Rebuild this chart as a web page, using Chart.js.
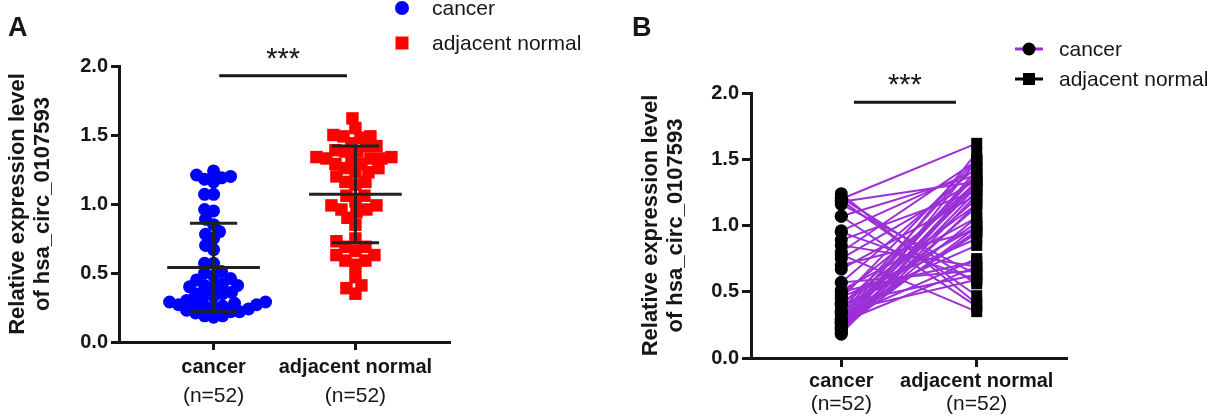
<!DOCTYPE html>
<html>
<head>
<meta charset="utf-8">
<script src="https://cdn.jsdelivr.net/npm/chart.js@4.4.1/dist/chart.umd.min.js"></script>
<style>
  html, body { margin: 0; padding: 0; background: #fff; }
  #wrap { position: relative; width: 1211px; height: 419px; overflow: hidden; }
  canvas { position: absolute; top: 0; }
  #chartA { left: 0; }
  #chartB { left: 620px; }
</style>
</head>
<body>
<div id="wrap">
  <canvas id="chartA" width="600" height="419"></canvas>
  <canvas id="chartB" width="591" height="419"></canvas>
</div>
<script>
// data
const categories = ['cancer', 'adjacent normal'];
const sampleLabels = ['(n=52)', '(n=52)'];
const categoryPos = [1, 2.5];
const yTicks = [0, 0.5, 1.0, 1.5, 2.0];
const yTitle = ['Relative expression level', 'of hsa_circ_0107593'];

const cancerValues = [
  1.24, 1.21, 1.20, 1.19, 1.18, 1.16, 1.07, 1.07, 0.96, 0.95,
  0.89, 0.85, 0.80, 0.78, 0.75, 0.70, 0.67, 0.57, 0.57, 0.51,
  0.50, 0.48, 0.46, 0.45, 0.42, 0.41, 0.41, 0.40, 0.40, 0.36,
  0.35, 0.35, 0.34, 0.33, 0.30, 0.29, 0.29, 0.28, 0.28, 0.27,
  0.27, 0.26, 0.26, 0.25, 0.23, 0.22, 0.22, 0.21, 0.24, 0.19,
  0.19, 0.18
];
// same order as cancerValues (one pair per patient)
const normalValues = [
  0.41, 0.56, 1.62, 0.47, 1.33, 0.63, 1.38, 0.39, 1.42, 0.59,
  1.26, 0.69, 1.49, 0.35, 1.34, 0.96, 1.23, 0.66, 1.44, 1.06,
  0.73, 1.29, 0.90, 1.50, 0.99, 1.16, 0.63, 1.33, 0.85, 1.48,
  1.02, 0.59, 1.39, 1.20, 0.75, 1.38, 0.94, 1.55, 1.29, 0.69,
  1.32, 1.14, 0.96, 1.42, 1.06, 1.26, 0.99, 1.49, 1.34, 1.16,
  1.23, 1.33
];
const meanValues = [0.54, 1.07];
const sdValues = [0.32, 0.35];

const FONT = '"Liberation Sans", Arial, Helvetica, sans-serif';
const INK = '#161616';
const PURPLE = '#9b30d6';
Chart.defaults.font.family = FONT;
Chart.defaults.color = INK;

// simple beeswarm : spread points sideways so they do not pile up
function swarmOffsets(values, minDist, pxPerX, pxPerY) {
  var placed = [];
  var offsets = new Array(values.length);
  var order = values.map(function(v, i) { return i; });
  order.sort(function(a, b) { return values[a] - values[b]; });
  order.forEach(function(i) {
    var py = values[i] * pxPerY;
    var best = 0;
    for (var step = 0; step < 400; step++) {
      var dx = (step % 2 === 0 ? 1 : -1) * Math.ceil(step / 2);
      var ok = placed.every(function(p) {
        var ddx = p.x - dx, ddy = p.y - py;
        return ddx * ddx + ddy * ddy >= minDist * minDist;
      });
      if (ok) { best = dx; break; }
    }
    placed.push({x: best, y: py});
    offsets[i] = best / pxPerX;
  });
  return offsets;
}

// mean line + SD whiskers, null points break the line
function errorBarData() {
  var pts = [];
  for (var g = 0; g < categoryPos.length; g++) {
    var c = categoryPos[g], m = meanValues[g], s = sdValues[g];
    pts.push({x: c - 0.49, y: m}, {x: c + 0.49, y: m}, {x: c, y: null});
    pts.push({x: c - 0.25, y: m + s}, {x: c + 0.25, y: m + s}, {x: c, y: null});
    pts.push({x: c - 0.25, y: m - s}, {x: c + 0.25, y: m - s}, {x: c, y: null});
    pts.push({x: c, y: m - s}, {x: c, y: m + s}, {x: c, y: null});
  }
  return pts;
}

function makeScales(axisWidth, axisHeight, tickLen, xPad, titlePad) {
  return {
    x: {
      type: 'linear', min: 0, max: 3.5,
      afterFit: function(s) { s.height = axisHeight; },
      afterBuildTicks: function(s) { s.ticks = categoryPos.map(function(v) { return {value: v}; }); },
      ticks: {
        autoSkip: false, maxRotation: 0, padding: xPad, color: INK,
        font: {size: 20, weight: 'bold'},
        callback: function(v) { return categories[categoryPos.indexOf(v)]; }
      },
      grid: {drawOnChartArea: false, tickLength: tickLen, tickWidth: 3, tickColor: INK},
      border: {color: INK, width: 3}
    },
    y: {
      min: 0, max: 2,
      afterFit: function(s) { s.width = axisWidth; },
      afterBuildTicks: function(s) { s.ticks = yTicks.map(function(v) { return {value: v}; }); },
      ticks: {
        padding: 3, color: INK, font: {size: 20, weight: 'bold'},
        callback: function(v) { return v.toFixed(1); }
      },
      grid: {drawOnChartArea: false, tickLength: tickLen, tickWidth: 3, tickColor: INK},
      border: {color: INK, width: 3},
      title: {
        display: true, text: yTitle, color: INK,
        font: {size: 22, weight: 'bold', lineHeight: 1.15},
        padding: {top: titlePad, bottom: 0}
      }
    }
  };
}

// letters, legend, significance bar and the (n=52) lines
function extrasPlugin(cfg) {
  return {
    id: 'extras',
    afterDraw: function(chart) {
      var ctx = chart.ctx, xs = chart.scales.x, ys = chart.scales.y;
      ctx.save();
      ctx.fillStyle = INK;
      ctx.font = 'bold 27px ' + FONT;
      ctx.textBaseline = 'middle';
      ctx.textAlign = 'left';
      ctx.fillText(cfg.letter, cfg.letterX, 29);

      // sample size under the category names
      ctx.font = '21px ' + FONT;
      ctx.textAlign = 'center';
      for (var i = 0; i < categories.length; i++) {
        ctx.fillText(sampleLabels[i], xs.getPixelForValue(categoryPos[i]), cfg.nY);
      }

      // significance
      var y = ys.getPixelForValue(1.93);
      ctx.strokeStyle = INK;
      ctx.lineWidth = 3;
      ctx.beginPath();
      ctx.moveTo(xs.getPixelForValue(cfg.sigFrom), y);
      ctx.lineTo(xs.getPixelForValue(cfg.sigTo), y);
      ctx.stroke();
      ctx.font = '29px ' + FONT;
      ctx.textBaseline = 'alphabetic';
      ctx.fillText('***', xs.getPixelForValue((cfg.sigFrom + cfg.sigTo) / 2), y - 8);

      // legend
      ctx.font = '21px ' + FONT;
      ctx.textAlign = 'left';
      ctx.textBaseline = 'middle';
      cfg.legend.forEach(function(item, k) {
        var ly = cfg.legendY[k];
        if (item.line) {
          ctx.strokeStyle = item.line;
          ctx.lineWidth = 3;
          ctx.beginPath();
          ctx.moveTo(cfg.legendX - 14, ly);
          ctx.lineTo(cfg.legendX + 14, ly);
          ctx.stroke();
        }
        ctx.fillStyle = item.color;
        if (item.shape === 'circle') {
          ctx.beginPath();
          ctx.arc(cfg.legendX, ly, item.size / 2, 0, Math.PI * 2);
          ctx.fill();
        } else {
          ctx.fillRect(cfg.legendX - item.size / 2, ly - item.size / 2, item.size, item.size);
        }
        ctx.fillStyle = INK;
        ctx.fillText(categories[k], cfg.legendX + 30, ly + 1);
      });
      ctx.restore();
    }
  };
}

function createChartA() {
  var offCancer = swarmOffsets(cancerValues, 9, 331 / 3.5, 138);
  var offNormal = swarmOffsets(normalValues, 10, 331 / 3.5, 138);

  new Chart(document.getElementById('chartA'), {
    type: 'scatter',
    data: {
      datasets: [
        {
          label: 'mean SD',
          data: errorBarData(),
          showLine: true, spanGaps: false,
          borderColor: '#222', borderWidth: 3, pointRadius: 0,
          order: 0
        },
        {
          label: categories[0],
          data: cancerValues.map(function(v, i) { return {x: categoryPos[0] + offCancer[i], y: v}; }),
          backgroundColor: '#0000ff', borderWidth: 0, pointRadius: 6.5,
          order: 1
        },
        {
          label: categories[1],
          data: normalValues.map(function(v, i) { return {x: categoryPos[1] + offNormal[i], y: v}; }),
          backgroundColor: '#ff0000', borderWidth: 0, pointStyle: 'rect', pointRadius: 8.8,
          order: 1
        }
      ]
    },
    options: {
      responsive: false, animation: false,
      layout: {padding: {left: 0, top: 66, right: 150, bottom: 0}},
      plugins: {legend: {display: false}, tooltip: {enabled: false}},
      scales: makeScales(119, 77, 8, 5, 5)
    },
    plugins: [extrasPlugin({
      letter: 'A', letterX: 8, nY: 396,
      sigFrom: 1.06, sigTo: 2.41,
      legendX: 402, legendY: [8, 43],
      legend: [
        {shape: 'circle', color: '#0000ff', size: 14},
        {shape: 'rect', color: '#ff0000', size: 13}
      ]
    })]
  });
}

function createChartB() {
  var datasets = [
    {
      label: categories[0],
      data: cancerValues.map(function(v) { return {x: categoryPos[0], y: v}; }),
      backgroundColor: '#000', borderWidth: 0, pointRadius: 6.5, order: 0
    },
    {
      label: categories[1],
      data: normalValues.map(function(v) { return {x: categoryPos[1], y: v}; }),
      backgroundColor: '#000', borderWidth: 0, pointStyle: 'rect', pointRadius: 7.8, order: 0
    }
  ];
  // one line per patient
  cancerValues.forEach(function(v, i) {
    datasets.push({
      label: 'pair ' + i,
      data: [{x: categoryPos[0], y: v}, {x: categoryPos[1], y: normalValues[i]}],
      showLine: true, borderColor: PURPLE, borderWidth: 2, pointRadius: 0, order: 1
    });
  });

  new Chart(document.getElementById('chartB'), {
    type: 'scatter',
    data: {datasets: datasets},
    options: {
      responsive: false, animation: false,
      layout: {padding: {left: 0, top: 93, right: 144, bottom: 0}},
      plugins: {legend: {display: false}, tooltip: {enabled: false}},
      scales: makeScales(131, 61, 9, 2, 18)
    },
    plugins: [extrasPlugin({
      letter: 'B', letterX: 12, nY: 404,
      sigFrom: 1.14, sigTo: 2.27,
      legendX: 409, legendY: [49, 79],
      legend: [
        {shape: 'circle', color: '#000', size: 13, line: PURPLE},
        {shape: 'rect', color: '#000', size: 12, line: '#000'}
      ]
    })]
  });
}

createChartA();
createChartB();
</script>
</body>
</html>
